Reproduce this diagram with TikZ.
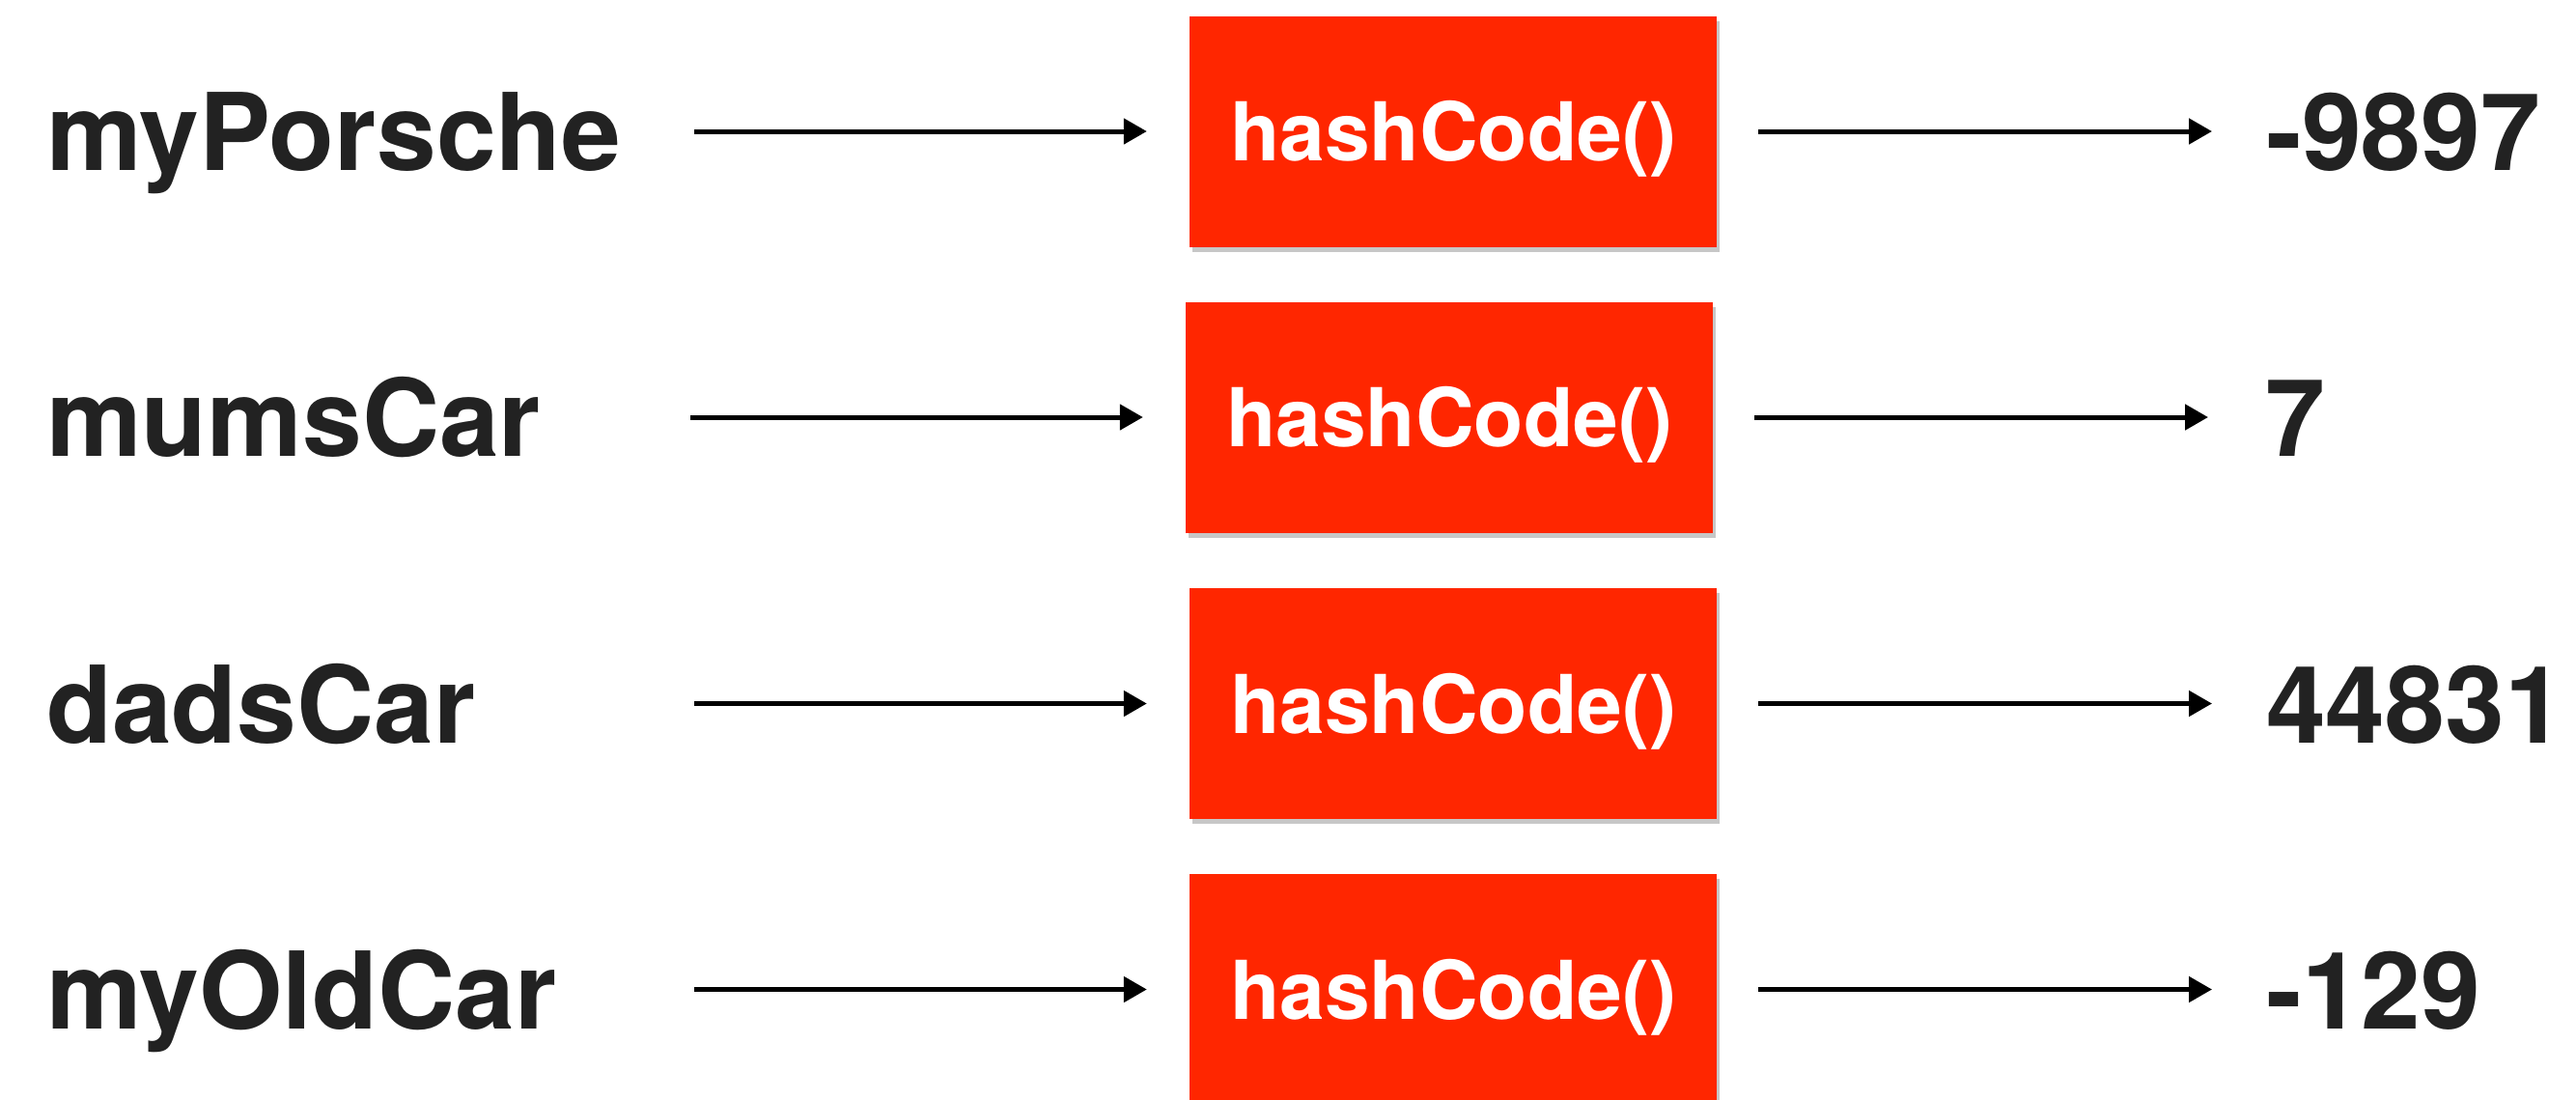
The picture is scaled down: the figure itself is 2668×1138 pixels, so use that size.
\documentclass[tikz,border=0pt]{standalone}
\usepackage{fontspec}
\setmainfont{TeX Gyre Heros}
\usetikzlibrary{arrows.meta,shadows}
\definecolor{boxred}{RGB}{255,38,0}
\definecolor{ink}{RGB}{34,34,34}
\begin{document}
\begin{tikzpicture}[x=1pt,y=-1pt,
  hashbox/.style={fill=boxred, minimum width=546pt, minimum height=239pt, inner sep=0pt,
    text=white, font=\bfseries\fontsize{84}{100}\selectfont, text height=61pt, text depth=0pt,
    drop shadow={shadow xshift=3pt, shadow yshift=-5pt, opacity=0.22, fill=black}},
  lbl/.style={anchor=base west, inner sep=0pt, text=ink, font=\bfseries\fontsize{111}{130}\selectfont},
  arr/.style={line width=5pt, -{Triangle[length=24pt,width=26pt]}}]
\useasboundingbox[fill=white] (0,0) rectangle (2668,1138);

% boxes
\node[hashbox] (b1) at (1505,136) {hashCode()};
\node[hashbox] (b2) at (1501,432) {hashCode()};
\node[hashbox] (b3) at (1505,728.5) {hashCode()};
\node[hashbox] (b4) at (1505,1024.5) {hashCode()};

% left labels
\node[lbl] (l1) at (48,176.5) {myPorsche};
\node[lbl] (l2) at (48,472.5) {mumsCar};
\node[lbl] (l3) at (48,769) {dadsCar};
\node[lbl] (l4) at (48,1065) {myOldCar};

% values
\node[lbl] (v1) at (2347,176.5) {-9897};
\node[lbl] (v2) at (2346,472.5) {7};
\node[lbl] (v3) at (2347,769) {44831};
\node[lbl] (v4) at (2347,1065) {-129};

% arrow starts
\coordinate (s1) at (719,136);
\coordinate (s2) at (715,432);
\coordinate (s3) at (719,728.5);
\coordinate (s4) at (719,1024.5);

\draw[arr, shorten >=44pt] (s1) -- (b1.west);
\draw[arr, shorten >=44pt] (s2) -- (b2.west);
\draw[arr, shorten >=44pt] (s3) -- (b3.west);
\draw[arr, shorten >=44pt] (s4) -- (b4.west);

\draw[arr, shorten <=43pt, shorten >=56pt] (b1.east) -- (b1.east -| v1.west);
\draw[arr, shorten <=43pt, shorten >=59pt] (b2.east) -- (b2.east -| v2.west);
\draw[arr, shorten <=43pt, shorten >=56pt] (b3.east) -- (b3.east -| v3.west);
\draw[arr, shorten <=43pt, shorten >=56pt] (b4.east) -- (b4.east -| v4.west);
\end{tikzpicture}
\end{document}
